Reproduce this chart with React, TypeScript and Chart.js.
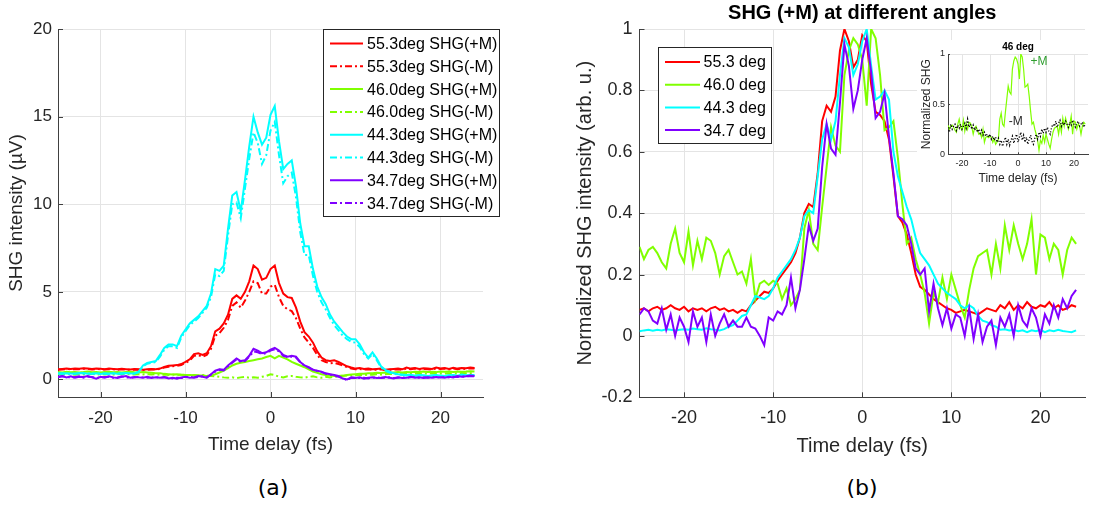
import React, { useEffect, useRef } from "react";
import { Chart, registerables } from "chart.js";

Chart.register(...registerables);

const FONT = "'Liberation Sans', Arial, Helvetica, sans-serif";
const INK = "#262626";
const AXIS = "#404040";
const GRID = "#e4e4e4";
Chart.defaults.font.family = FONT;

// ---------- shared sampling grid (fs) ----------
const timeFs = [
  -25, -24.5, -24, -23.5, -23, -22.5, -22, -21.5, -21, -20.5,
  -20, -19.5, -19, -18.5, -18, -17.5, -17, -16.5, -16, -15.5,
  -15, -14.5, -14, -13.5, -13, -12.5, -12, -11.5, -11, -10.5,
  -10, -9.5, -9, -8.5, -8, -7.5, -7, -6.5, -6, -5.5,
  -5, -4.5, -4, -3.5, -3, -2.5, -2, -1.5, -1, -0.5,
  0, 0.5, 1, 1.5, 2, 2.5, 3, 3.5, 4, 4.5,
  5, 5.5, 6, 6.5, 7, 7.5, 8, 8.5, 9, 9.5,
  10, 10.5, 11, 11.5, 12, 12.5, 13, 13.5, 14, 14.5,
  15, 15.5, 16, 16.5, 17, 17.5, 18, 18.5, 19, 19.5,
  20, 20.5, 21, 21.5, 22, 22.5, 23, 23.5, 24,
];

const xTicks = [-20, -10, 0, 10, 20];
const yTicksA = [0, 5, 10, 15, 20];
const yTicksB = [-0.2, 0, 0.2, 0.4, 0.6, 0.8, 1];
const yTicksInset = [0, 0.5, 1];

// ---------- panel (a): SHG intensity (µV) ----------
const red553PlusA = [
  0.58, 0.6, 0.62, 0.6, 0.63, 0.61, 0.64, 0.62, 0.6, 0.63,
  0.61, 0.59, 0.62, 0.6, 0.58, 0.61, 0.59, 0.57, 0.6, 0.58,
  0.56, 0.58, 0.6, 0.58, 0.62, 0.72, 0.78, 0.8, 0.82, 0.88,
  1.0, 1.15, 1.45, 1.5, 1.4, 1.5, 1.9, 2.75, 2.9, 3.2,
  3.7, 4.6, 4.8, 4.6, 5.0, 5.6, 6.5, 6.3, 5.7, 5.8,
  6.3, 6.5, 5.5, 4.9, 4.7, 4.65, 4.1, 3.3, 2.7, 2.45,
  2.1, 1.6, 1.25, 1.1, 1.05, 1.1, 1.0, 0.88, 0.75, 0.68,
  0.62, 0.65, 0.6, 0.62, 0.58, 0.6, 0.62, 0.56, 0.58, 0.6,
  0.62, 0.58, 0.68, 0.62, 0.66, 0.6, 0.64, 0.62, 0.6, 0.68,
  0.63, 0.65, 0.6, 0.67, 0.62, 0.66, 0.64, 0.68, 0.66,
];
const red553MinusA = [
  0.55, 0.57, 0.6, 0.58, 0.6, 0.59, 0.61, 0.6, 0.57, 0.6,
  0.58, 0.57, 0.59, 0.58, 0.56, 0.58, 0.57, 0.55, 0.57, 0.56,
  0.54, 0.56, 0.57, 0.56, 0.6, 0.68, 0.72, 0.76, 0.78, 0.83,
  0.95, 1.08, 1.35, 1.4, 1.3, 1.4, 1.75, 2.5, 2.65, 2.95,
  3.4, 4.2, 4.4, 4.1, 4.5, 5.0, 5.6, 5.5, 4.9, 4.9,
  5.3, 5.4, 4.7, 4.2, 4.0, 3.9, 3.5, 2.9, 2.4, 2.1,
  1.8, 1.4, 1.1, 1.0, 0.92, 0.95, 0.88, 0.8, 0.7, 0.63,
  0.58, 0.6, 0.56, 0.58, 0.55, 0.56, 0.58, 0.53, 0.55, 0.56,
  0.58, 0.55, 0.63, 0.58, 0.62, 0.57, 0.6, 0.58, 0.57, 0.64,
  0.6, 0.62, 0.57, 0.63, 0.59, 0.62, 0.6, 0.64, 0.62,
];
const green460PlusA = [
  0.42, 0.4, 0.44, 0.41, 0.43, 0.4, 0.42, 0.45, 0.41, 0.43,
  0.4, 0.42, 0.44, 0.41, 0.43, 0.4, 0.42, 0.44, 0.41, 0.4,
  0.42, 0.4, 0.38, 0.36, 0.35, 0.32, 0.3, 0.28, 0.3, 0.27,
  0.25, 0.26, 0.24, 0.22, 0.22, 0.2, 0.22, 0.3, 0.4, 0.5,
  0.65, 0.8, 0.9, 0.95, 1.0, 1.05, 1.1, 1.15, 1.2, 1.28,
  1.35, 1.2, 1.35, 1.25, 1.15, 1.0, 0.9, 0.8, 0.7, 0.58,
  0.45, 0.38, 0.3, 0.25, 0.22, 0.2, 0.2, 0.22, 0.25, 0.28,
  0.3, 0.32, 0.33, 0.35, 0.36, 0.38, 0.37, 0.4, 0.38, 0.4,
  0.42, 0.4, 0.43, 0.41, 0.44, 0.42, 0.45, 0.43, 0.44, 0.42,
  0.46, 0.44, 0.45, 0.43, 0.46, 0.44, 0.45, 0.47, 0.45,
];
const green460MinusA = [
  0.3, 0.28, 0.32, 0.3, 0.27, 0.31, 0.29, 0.3, 0.33, 0.28,
  0.3, 0.29, 0.31, 0.28, 0.3, 0.32, 0.29, 0.3, 0.28, 0.3,
  0.29, 0.3, 0.28, 0.3, 0.27, 0.28, 0.26, 0.28, 0.25, 0.27,
  0.26, 0.24, 0.25, 0.23, 0.25, 0.22, 0.2, 0.18, 0.15, 0.12,
  0.1, 0.12, 0.08, 0.12, 0.15, 0.1, 0.12, 0.1, 0.15, 0.2,
  0.3, 0.25, 0.15, 0.12, 0.18, 0.2, 0.15, 0.12, 0.1, 0.15,
  0.18, 0.12, 0.1, 0.15, 0.12, 0.15, 0.18, 0.2, 0.22, 0.25,
  0.24, 0.26, 0.25, 0.28, 0.27, 0.3, 0.28, 0.3, 0.32, 0.3,
  0.32, 0.31, 0.33, 0.32, 0.34, 0.32, 0.35, 0.33, 0.34, 0.33,
  0.35, 0.34, 0.36, 0.34, 0.35, 0.37, 0.35, 0.36, 0.36,
];
const cyan443PlusA = [
  0.35, 0.33, 0.36, 0.34, 0.32, 0.35, 0.37, 0.33, 0.34, 0.36,
  0.32, 0.35, 0.34, 0.36, 0.33, 0.35, 0.37, 0.34, 0.36, 0.45,
  0.8, 0.95, 1.0, 1.05, 1.4, 1.8, 2.0, 2.0, 1.9, 2.5,
  2.85, 3.2, 3.4, 3.6, 3.9, 4.2, 4.9, 6.3, 6.2, 6.5,
  8.6, 10.5, 10.7, 9.6, 11.4, 13.3, 15.0, 14.1, 13.4, 13.8,
  15.1, 15.6, 13.6, 12.0, 12.3, 12.5, 11.0, 8.9, 7.6, 7.6,
  6.3, 5.3, 4.7, 4.3, 3.7, 3.3, 3.0, 2.7, 2.45, 2.3,
  2.3, 2.0, 1.55, 1.25, 1.55, 1.2, 0.75, 0.55, 0.45, 0.35,
  0.3, 0.28, 0.25, 0.27, 0.22, 0.25, 0.24, 0.2, 0.23, 0.25,
  0.22, 0.2, 0.24, 0.25, 0.22, 0.28, 0.24, 0.26, 0.25,
];
const cyan443MinusA = [
  0.32, 0.35, 0.33, 0.31, 0.34, 0.36, 0.33, 0.35, 0.32, 0.34,
  0.36, 0.33, 0.31, 0.35, 0.34, 0.32, 0.35, 0.36, 0.33, 0.42,
  0.75, 0.9, 0.95, 1.0, 1.3, 1.7, 1.9, 1.9, 1.8, 2.4,
  2.75, 3.1, 3.3, 3.5, 3.8, 4.1, 4.7, 6.0, 5.9, 6.2,
  8.2, 10.0, 10.1, 9.2, 10.9, 12.6, 14.1, 13.5, 12.3, 12.8,
  14.2, 14.7, 12.8, 11.2, 11.6, 11.8, 10.4, 8.4, 7.1, 7.1,
  5.9, 5.0, 4.4, 4.0, 3.5, 3.1, 2.8, 2.5, 2.3, 2.15,
  2.1, 1.85, 1.45, 1.2, 1.45, 1.1, 0.7, 0.5, 0.4, 0.32,
  0.28, 0.25, 0.22, 0.25, 0.2, 0.23, 0.22, 0.19, 0.21, 0.23,
  0.2, 0.19, 0.22, 0.23, 0.2, 0.25, 0.22, 0.24, 0.23,
];
const purple347PlusA = [
  0.15, 0.2, 0.12, 0.18, 0.1, 0.16, 0.14, 0.2, 0.12, 0.05,
  0.15, 0.1, 0.18, 0.12, 0.08, 0.15, 0.2, 0.1, 0.14, 0.12,
  0.1, 0.15, 0.08, 0.12, 0.1, 0.14, 0.06, 0.1, 0.05, 0.12,
  0.15, 0.1, 0.12, 0.2, 0.15, 0.1, 0.3, 0.5, 0.58, 0.55,
  0.8, 1.0, 1.2, 1.05, 1.1, 1.35, 1.75, 1.65, 1.5, 1.55,
  1.7, 1.8, 1.65, 1.4, 1.3, 1.35, 1.3, 1.0, 0.8, 0.7,
  0.55, 0.5, 0.45, 0.35, 0.3, 0.25, 0.2, 0.05, 0.0, 0.1,
  0.08, 0.12, 0.05, 0.1, 0.12, 0.08, 0.1, 0.14, 0.1, 0.06,
  0.12, 0.08, 0.1, 0.15, 0.1, 0.12, 0.08, 0.12, 0.1, 0.14,
  0.12, 0.1, 0.15, 0.12, 0.2, 0.15, 0.18, 0.22, 0.2,
];
const purple347MinusA = [
  0.12, 0.18, 0.15, 0.1, 0.14, 0.18, 0.1, 0.16, 0.14, 0.08,
  0.12, 0.14, 0.15, 0.1, 0.12, 0.18, 0.14, 0.08, 0.12, 0.15,
  0.12, 0.1, 0.12, 0.15, 0.08, 0.12, 0.1, 0.06, 0.1, 0.08,
  0.12, 0.15, 0.1, 0.15, 0.18, 0.12, 0.28, 0.45, 0.55, 0.52,
  0.75, 0.95, 1.15, 1.0, 1.05, 1.3, 1.6, 1.55, 1.45, 1.5,
  1.65, 1.72, 1.6, 1.35, 1.28, 1.3, 1.25, 0.98, 0.78, 0.68,
  0.55, 0.48, 0.42, 0.33, 0.28, 0.22, 0.15, 0.08, -0.05, 0.12,
  0.1, 0.08, 0.1, 0.06, 0.1, 0.12, 0.08, 0.1, 0.12, 0.08,
  0.1, 0.12, 0.08, 0.12, 0.14, 0.1, 0.12, 0.1, 0.14, 0.1,
  0.12, 0.14, 0.12, 0.16, 0.14, 0.18, 0.15, 0.2, 0.18,
];

// ---------- panel (b): normalized SHG (+M) ----------
const red553B = [
  0.085, 0.09, 0.08, 0.09, 0.095, 0.085, 0.09, 0.1, 0.09, 0.085,
  0.095, 0.08, 0.09, 0.085, 0.09, 0.08, 0.09, 0.095, 0.085, 0.09,
  0.08, 0.085, 0.075, 0.085, 0.08, 0.1, 0.115, 0.13, 0.144, 0.14,
  0.155, 0.18, 0.2, 0.22, 0.24, 0.27, 0.32, 0.4, 0.43, 0.42,
  0.53, 0.7, 0.75, 0.73, 0.78, 0.93, 1.0, 0.96, 0.875, 0.9,
  0.98, 0.96, 0.82, 0.73, 0.72, 0.7, 0.64, 0.52, 0.39, 0.37,
  0.33, 0.27, 0.2, 0.16, 0.15, 0.135, 0.12, 0.11, 0.1, 0.09,
  0.085, 0.075, 0.08, 0.085, 0.08, 0.075, 0.07, 0.08, 0.09, 0.085,
  0.08, 0.1, 0.09, 0.11, 0.085, 0.1, 0.09, 0.11, 0.095, 0.09,
  0.1, 0.095, 0.11, 0.09, 0.1, 0.085, 0.09, 0.1, 0.095,
];
const green460B = [
  0.29, 0.25, 0.28, 0.29, 0.27, 0.24, 0.22, 0.3, 0.35, 0.27,
  0.24, 0.34, 0.23, 0.31, 0.25, 0.32, 0.31, 0.27, 0.2, 0.26,
  0.28, 0.24, 0.2, 0.21, 0.17, 0.25, 0.12, 0.17, 0.18, 0.166,
  0.18, 0.17, 0.12, 0.155, 0.1, 0.12, 0.15, 0.35, 0.41, 0.3,
  0.28, 0.42, 0.55, 0.68, 0.62, 0.6, 0.85, 0.93, 0.97, 0.95,
  0.9, 0.75, 1.0, 0.97, 0.85, 0.67, 0.68, 0.7, 0.58, 0.43,
  0.3, 0.32, 0.25, 0.2, 0.14, 0.04, 0.14, 0.11, 0.19, 0.12,
  0.2, 0.15, 0.1, 0.06, 0.15, 0.22, 0.26, 0.27, 0.28, 0.2,
  0.3, 0.22, 0.36, 0.28, 0.36, 0.3, 0.25, 0.3, 0.38, 0.2,
  0.33, 0.32, 0.25, 0.3, 0.28, 0.2, 0.28, 0.32, 0.3,
];
const cyan443B = [
  0.015, 0.018, 0.02, 0.017, 0.02, 0.018, 0.022, 0.02, 0.018, 0.02,
  0.022, 0.02, 0.024, 0.022, 0.02, 0.025, 0.022, 0.02, 0.018, 0.022,
  0.03, 0.035, 0.05, 0.065, 0.07, 0.1, 0.13, 0.125, 0.12, 0.13,
  0.155, 0.19, 0.21, 0.23, 0.25, 0.28, 0.32, 0.39, 0.41, 0.4,
  0.52, 0.64, 0.69, 0.64, 0.7, 0.85, 0.97, 0.94, 0.85, 0.885,
  0.96, 1.0, 0.88, 0.77, 0.78, 0.8, 0.77, 0.6, 0.52, 0.47,
  0.42, 0.38, 0.32, 0.27, 0.25, 0.23, 0.2, 0.17, 0.155, 0.14,
  0.13, 0.12, 0.1, 0.09, 0.1, 0.09, 0.065, 0.05, 0.045, 0.035,
  0.03, 0.02, 0.022, 0.018, 0.02, 0.015, 0.018, 0.012, 0.018, 0.015,
  0.02, 0.012, 0.018, 0.015, 0.02, 0.016, 0.014, 0.012, 0.018,
];
const purple347B = [
  0.07, 0.09, 0.08, 0.05, 0.04, 0.09, 0.02, 0.07, 0.0, 0.06,
  0.03, -0.02, 0.08, 0.03, 0.06, -0.02, 0.07, 0.0, 0.04, 0.07,
  0.03, 0.05, 0.03, 0.03, 0.06, 0.03, 0.024, 0.0, -0.03, 0.06,
  0.05, 0.08, 0.07, 0.1, 0.19, 0.09, 0.15, 0.25, 0.36, 0.31,
  0.35, 0.55, 0.69, 0.61, 0.59, 0.76, 0.95, 0.88, 0.74, 0.8,
  0.9, 0.97, 0.86, 0.71, 0.73, 0.79, 0.65, 0.53, 0.39, 0.38,
  0.36, 0.3, 0.22, 0.2, 0.22, 0.08, 0.17, 0.09, 0.035, 0.09,
  0.024, 0.07, 0.06, 0.0, 0.09, -0.01, 0.07, -0.02, 0.03, 0.05,
  -0.03, 0.06, 0.03, 0.07, 0.0, 0.1, 0.05, 0.03, 0.09, 0.06,
  0.0, 0.07, 0.04, 0.1, 0.06, 0.12, 0.09, 0.13, 0.15,
];

// ---------- inset: 46 deg, -M normalized ----------
const green460MinusInset = [
  0.27, 0.22, 0.3, 0.25, 0.28, 0.3, 0.24, 0.29, 0.26, 0.3,
  0.25, 0.28, 0.31, 0.26, 0.35, 0.27, 0.3, 0.25, 0.29, 0.24,
  0.27, 0.22, 0.25, 0.21, 0.24, 0.19, 0.22, 0.18, 0.2, 0.17,
  0.2, 0.15, 0.18, 0.14, 0.17, 0.12, 0.16, 0.1, 0.14, 0.08,
  0.13, 0.17, 0.1, 0.15, 0.09, 0.14, 0.18, 0.11, 0.16, 0.2,
  0.12, 0.17, 0.22, 0.14, 0.19, 0.12, 0.17, 0.1, 0.15, 0.19,
  0.13, 0.1, 0.16, 0.2, 0.15, 0.22, 0.18, 0.25, 0.21, 0.26,
  0.22, 0.27, 0.23, 0.2, 0.27, 0.3, 0.28, 0.33, 0.27, 0.31,
  0.34, 0.28, 0.32, 0.29, 0.33, 0.3, 0.27, 0.32, 0.29, 0.34,
  0.3, 0.27, 0.31, 0.33, 0.28, 0.3, 0.32, 0.27, 0.3,
];

const RED = "#ff0000";
const GREEN = "#80ff00";
const CYAN = "#00ffff";
const PURPLE = "#8000ff";
const DASHDOT = [7, 3, 2, 3];

const fmt = (v: number) => (Math.abs(v - Math.round(v)) < 1e-9 ? String(Math.round(v)) : v.toFixed(1));
const pts = (ys: number[]) => timeFs.map((t, i) => ({ x: t, y: ys[i] }));

function series(label: string, ys: number[], color: string, dash: number[], width: number, order: number) {
  return {
    label,
    data: pts(ys),
    borderColor: color,
    backgroundColor: color,
    borderWidth: width,
    borderDash: dash,
    pointRadius: 0,
    pointHoverRadius: 0,
    tension: 0,
    fill: false,
    order,
  };
}

function linScale(o: {
  min: number; max: number; ticks: number[]; fit: (s: any) => void;
  tickSize: number; tickPad: number; title: string; titleSize: number; titlePad: any;
}) {
  return {
    type: "linear",
    min: o.min,
    max: o.max,
    afterBuildTicks: (s: any) => { s.ticks = o.ticks.map((v) => ({ value: v })); },
    afterFit: o.fit,
    ticks: {
      autoSkip: false, maxRotation: 0, minRotation: 0, padding: o.tickPad, color: INK,
      font: { family: FONT, size: o.tickSize },
      callback: (v: any) => fmt(Number(v)),
    },
    grid: { color: GRID, lineWidth: 1, drawTicks: false },
    border: { display: true, color: AXIS, width: 1 },
    title: { display: true, text: o.title, color: INK, font: { family: FONT, size: o.titleSize }, padding: o.titlePad },
  };
}

const inwardTicks = {
  id: "inwardTicks",
  afterDatasetsDraw(chart: any, _a: any, o: any) {
    const { ctx, chartArea, scales } = chart;
    const len = o.len ?? 5;
    ctx.save();
    ctx.strokeStyle = AXIS;
    ctx.lineWidth = 1;
    scales.x.ticks.forEach((t: any) => {
      const px = Math.round(scales.x.getPixelForValue(t.value)) + 0.5;
      ctx.beginPath(); ctx.moveTo(px, chartArea.bottom); ctx.lineTo(px, chartArea.bottom - len); ctx.stroke();
    });
    scales.y.ticks.forEach((t: any) => {
      const py = Math.round(scales.y.getPixelForValue(t.value)) + 0.5;
      ctx.beginPath(); ctx.moveTo(chartArea.left, py); ctx.lineTo(chartArea.left + len, py); ctx.stroke();
    });
    ctx.restore();
  },
};

const boxLegend = {
  id: "boxLegend",
  afterDraw(chart: any, _a: any, o: any) {
    if (!o || !o.show) return;
    const ctx = chart.ctx;
    ctx.save();
    ctx.fillStyle = "#fff";
    ctx.fillRect(o.x, o.y, o.w, o.h);
    ctx.strokeStyle = INK;
    ctx.lineWidth = 1;
    ctx.setLineDash([]);
    ctx.strokeRect(Math.round(o.x) + 0.5, Math.round(o.y) + 0.5, o.w, o.h);
    ctx.font = `${o.size}px ${FONT}`;
    ctx.textBaseline = "middle";
    ctx.textAlign = "left";
    chart.data.datasets.forEach((ds: any, i: number) => {
      const cy = o.y + o.first + i * o.row;
      ctx.strokeStyle = ds.borderColor;
      ctx.lineWidth = ds.borderWidth;
      ctx.setLineDash(ds.borderDash || []);
      ctx.beginPath();
      ctx.moveTo(o.x + o.l1, cy);
      ctx.lineTo(o.x + o.l2, cy);
      ctx.stroke();
      ctx.setLineDash([]);
      ctx.fillStyle = "#000";
      ctx.fillText(ds.label, o.x + o.tx, cy + 1);
    });
    ctx.restore();
  },
};

const textMarks = {
  id: "textMarks",
  afterDatasetsDraw(chart: any, _a: any, o: any) {
    if (!o || !o.items) return;
    const { ctx, scales } = chart;
    ctx.save();
    ctx.textAlign = "center";
    ctx.textBaseline = "middle";
    o.items.forEach((it: any) => {
      ctx.font = `${it.size}px ${FONT}`;
      ctx.fillStyle = it.color;
      ctx.fillText(it.text, scales.x.getPixelForValue(it.x), scales.y.getPixelForValue(it.y));
    });
    ctx.restore();
  },
};

function buildA() {
  const ds = [
    series("55.3deg SHG(+M)", red553PlusA, RED, [], 2, 8),
    series("55.3deg SHG(-M)", red553MinusA, RED, DASHDOT, 2, 7),
    series("46.0deg SHG(+M)", green460PlusA, GREEN, [], 2, 6),
    series("46.0deg SHG(-M)", green460MinusA, GREEN, DASHDOT, 2, 5),
    series("44.3deg SHG(+M)", cyan443PlusA, CYAN, [], 2, 4),
    series("44.3deg SHG(-M)", cyan443MinusA, CYAN, DASHDOT, 2, 3),
    series("34.7deg SHG(+M)", purple347PlusA, PURPLE, [], 2, 2),
    series("34.7deg SHG(-M)", purple347MinusA, PURPLE, DASHDOT, 2, 1),
  ];
  return {
    type: "line",
    data: { datasets: ds },
    options: {
      responsive: false,
      animation: false,
      devicePixelRatio: 1,
      events: [],
      layout: { padding: { left: 0, top: 29, right: 77, bottom: 0 } },
      plugins: {
        legend: { display: false },
        tooltip: { enabled: false },
        title: { display: false },
        inwardTicks: { len: 5 },
        boxLegend: { show: true, x: 323, y: 29, w: 176, h: 187, first: 14.5, row: 22.8, l1: 7, l2: 40, tx: 44, size: 16 },
      },
      scales: {
        x: linScale({
          min: -25, max: 25, ticks: xTicks, fit: (s: any) => { s.height = 73; },
          tickSize: 17, tickPad: 11, title: "Time delay (fs)", titleSize: 19, titlePad: { top: 0, bottom: 14 },
        }),
        y: linScale({
          min: -1, max: 20, ticks: yTicksA, fit: (s: any) => { s.width = 58; },
          tickSize: 17, tickPad: 6, title: "SHG intensity (µV)", titleSize: 19, titlePad: { top: 5.5, bottom: 0 },
        }),
      },
    },
    plugins: [inwardTicks, boxLegend],
  };
}

function buildB() {
  const ds = [
    series("55.3 deg", red553B, RED, [], 2, 4),
    series("46.0 deg", green460B, GREEN, [], 2, 3),
    series("44.3 deg", cyan443B, CYAN, [], 2, 2),
    series("34.7 deg", purple347B, PURPLE, [], 2, 1),
  ];
  return {
    type: "line",
    data: { datasets: ds },
    options: {
      responsive: false,
      animation: false,
      devicePixelRatio: 1,
      events: [],
      layout: { padding: { left: 0, top: 0, right: 10, bottom: 0 } },
      plugins: {
        legend: { display: false },
        tooltip: { enabled: false },
        title: {
          display: true, text: "SHG (+M) at different angles", color: "#000", fullSize: false,
          font: { family: FONT, size: 20, weight: "bold" }, padding: { top: 1, bottom: 4 },
        },
        inwardTicks: { len: 5 },
        boxLegend: { show: true, x: 98, y: 47, w: 113, h: 96, first: 15, row: 22.7, l1: 7, l2: 42, tx: 45.5, size: 16 },
      },
      scales: {
        x: linScale({
          min: -25, max: 25, ticks: xTicks, fit: (s: any) => { s.height = 72.7; },
          tickSize: 18, tickPad: 10, title: "Time delay (fs)", titleSize: 20, titlePad: { top: 0, bottom: 12 },
        }),
        y: linScale({
          min: -0.2, max: 1, ticks: yTicksB, fit: (s: any) => { s.width = 79.5; },
          tickSize: 18, tickPad: 7, title: "Normalized SHG intensity (arb. u.)", titleSize: 20, titlePad: { top: 13, bottom: 0 },
        }),
      },
    },
    plugins: [inwardTicks, boxLegend],
  };
}

function buildInset() {
  const ds = [
    series("+M", green460B, GREEN, [], 1.2, 2),
    series("-M", green460MinusInset, "#000000", [1.2, 1.8], 1.3, 1),
  ];
  return {
    type: "line",
    data: { datasets: ds },
    options: {
      responsive: false,
      animation: false,
      devicePixelRatio: 1,
      events: [],
      layout: { padding: { left: 0, top: 0, right: 7, bottom: 0 } },
      plugins: {
        legend: { display: false },
        tooltip: { enabled: false },
        title: {
          display: true, text: "46 deg", color: "#000", fullSize: false,
          font: { family: FONT, size: 10, weight: "bold" }, padding: { top: 1, bottom: 1 },
        },
        inwardTicks: { len: 2 },
        textMarks: {
          items: [
            { text: "+M", x: 7.5, y: 0.92, color: "#2f9e2f", size: 12 },
            { text: "-M", x: -0.8, y: 0.33, color: INK, size: 12 },
          ],
        },
      },
      scales: {
        x: linScale({
          min: -25, max: 25, ticks: xTicks, fit: (s: any) => { s.height = 35.7; },
          tickSize: 9, tickPad: 3.5, title: "Time delay (fs)", titleSize: 12, titlePad: { top: 0, bottom: 3.8 },
        }),
        y: linScale({
          min: 0, max: 1, ticks: yTicksInset, fit: (s: any) => { s.width = 31; },
          tickSize: 9, tickPad: 3, title: "Normalized SHG", titleSize: 12, titlePad: { top: 2.8, bottom: 0 },
        }),
      },
    },
    plugins: [inwardTicks, textMarks],
  };
}

function ChartCanvas(props: { build: () => any; left: number; top: number; width: number; height: number; bg?: string }) {
  const ref = useRef<HTMLCanvasElement | null>(null);
  useEffect(() => {
    if (!ref.current) return;
    const chart = new Chart(ref.current, props.build() as any);
    return () => chart.destroy();
  }, []);
  return (
    <canvas
      ref={ref}
      width={props.width}
      height={props.height}
      style={{
        position: "absolute", left: props.left, top: props.top,
        width: props.width, height: props.height, background: props.bg || "transparent", display: "block",
      }}
    />
  );
}

const capStyle = (cx: number): React.CSSProperties => ({
  position: "absolute",
  left: cx - 50,
  top: 474,
  width: 100,
  textAlign: "center",
  fontFamily: "'DejaVu Sans', Verdana, sans-serif",
  fontSize: 22,
  lineHeight: "28px",
  color: "#000",
});

export default function App() {
  return (
    <div style={{ position: "fixed", left: 0, top: 0, width: 1095, height: 506, background: "#fff", overflow: "hidden" }}>
      <ChartCanvas build={buildA} left={0} top={0} width={560} height={470} />
      <ChartCanvas build={buildB} left={560} top={0} width={535} height={470} />
      <ChartCanvas build={buildInset} left={917} top={40} width={178} height={150} bg="#fff" />
      <div style={capStyle(273)}>(a)</div>
      <div style={capStyle(862)}>(b)</div>
    </div>
  );
}
